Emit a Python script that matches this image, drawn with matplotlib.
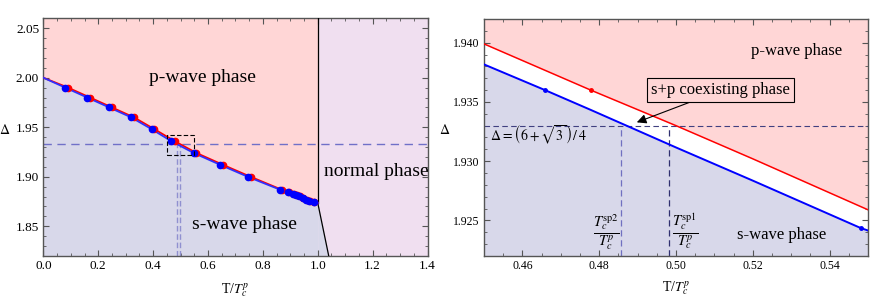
import matplotlib
matplotlib.use('Agg')
import matplotlib.pyplot as plt
from matplotlib.ticker import MultipleLocator
from matplotlib.patches import Rectangle

plt.rcParams['font.family'] = ['Liberation Serif', 'DejaVu Serif']
plt.rcParams['mathtext.fontset'] = 'stix'

# ---- data ----
# left panel: phase boundary points (T/Tc^p, Delta)
s_T = [0.0, 0.08, 0.16, 0.24, 0.32, 0.395, 0.466, 0.548, 0.645, 0.745, 0.862,
       0.89, 0.908, 0.92, 0.932, 0.945, 0.957, 0.968, 0.985, 1.0]
p_T = [0.0, 0.09, 0.17, 0.25, 0.33, 0.405, 0.478, 0.558, 0.655, 0.755, 0.868,
       0.895, 0.912, 0.924, 0.935, 0.948, 0.959, 0.970, 0.986, 1.0]
gap = [2.0, 1.99, 1.98, 1.97, 1.96, 1.948, 1.936, 1.924, 1.912, 1.900, 1.887,
       1.885, 1.883, 1.882, 1.881, 1.879, 1.877, 1.876, 1.8745, 1.8735]
normal_T = [1.0, 1.04]
normal_gap = [1.8735, 1.82]

# right panel: zoom near the crossing
zoom_T = [0.45, 0.4659, 0.4778, 0.50, 0.52, 0.5481, 0.55]
zoom_p = [1.9399, 1.93767, 1.9360, 1.9330, 1.9302, 1.92617, 1.9259]
zoom_s = [1.93817, 1.9360, 1.93433, 1.93116, 1.92836, 1.92436, 1.92415]
s_dot = ([0.4659, 0.5481], [1.9360, 1.92436])
p_dot = ([0.4778], [1.9360])

delta_c = 1.933
Tc_sp2 = 0.4857
Tc_sp1 = 0.4983

pink = '#ffd6d6'
lav = '#d8d8ea'
normal_col = '#f0dff0'
spine_col = '#555555'


def style(ax, xmaj, xmin, ymaj, ymin, fs):
    ax.xaxis.set_major_locator(MultipleLocator(xmaj))
    ax.xaxis.set_minor_locator(MultipleLocator(xmin))
    ax.yaxis.set_major_locator(MultipleLocator(ymaj))
    ax.yaxis.set_minor_locator(MultipleLocator(ymin))
    ax.tick_params(which='both', direction='in', top=True, right=True,
                   color=spine_col, labelsize=fs, pad=3)
    ax.tick_params(which='major', length=4, width=0.8)
    ax.tick_params(which='minor', length=2, width=0.6)
    for s in ax.spines.values():
        s.set_color(spine_col)
        s.set_linewidth(1.0)


fig = plt.figure(figsize=(8.72, 3.05), dpi=100)

# ---------------- left panel ----------------
ax1 = fig.add_axes([0.0497, 0.1607, 0.4406, 0.7793])
ymin1, ymax1 = 1.82, 2.06
ax1.set_xlim(0, 1.4)
ax1.set_ylim(ymin1, ymax1)
ax1.set_facecolor(normal_col)
ax1.axvspan(0, 1.0, color='white', lw=0, zorder=0.5)
ax1.fill_between(p_T, gap, ymax1, color=pink, lw=0, zorder=1)
ax1.fill_between(s_T, ymin1, gap, color=lav, lw=0, zorder=1)
ax1.fill_between(normal_T, ymin1, normal_gap, color=lav, lw=0, zorder=1)
ax1.plot([1.0, 1.0], [gap[-1], ymax1], color='black', lw=0.9, zorder=3)
ax1.plot(normal_T, normal_gap, color='black', lw=0.9, zorder=3)
ax1.plot(p_T, gap, color='red', lw=1.3, zorder=3)
ax1.plot(s_T, gap, color='#3030ff', lw=1.3, zorder=3)
ax1.plot(p_T[1:-1], gap[1:-1], 'o', color='red', ms=4.5, zorder=4)
ax1.plot(s_T[1:-1], gap[1:-1], 'o', color='blue', ms=4.5, zorder=5)
ax1.axhline(delta_c, color='#7070c8', lw=1.0, ls=(0, (6, 4)), zorder=2)
ax1.plot([Tc_sp2, Tc_sp2], [ymin1, delta_c], color='#9090d0', lw=1.0,
         ls=(0, (4, 2)), zorder=2)
ax1.plot([Tc_sp1, Tc_sp1], [ymin1, delta_c], color='#9090d0', lw=1.0,
         ls=(0, (4, 2)), zorder=2)
ax1.add_patch(Rectangle((0.45, 1.922), 0.1, 0.02, fill=False, ec='black',
                        lw=0.8, ls=(0, (4, 2)), zorder=6))
ax1.text(0.58, 2.0, 'p-wave phase', fontsize=14, ha='center', va='center')
ax1.text(0.733, 1.852, 's-wave phase', fontsize=14, ha='center', va='center')
ax1.text(1.212, 1.905, 'normal phase', fontsize=14, ha='center', va='center')
style(ax1, 0.2, 0.05, 0.05, 0.01, 9.5)
ax1.set_xticks([0.0, 0.2, 0.4, 0.6, 0.8, 1.0, 1.2, 1.4])
ax1.set_xticklabels(['0.0', '0.2', '0.4', '0.6', '0.8', '1.0', '1.2', '1.4'])
ax1.set_yticks([1.85, 1.90, 1.95, 2.00, 2.05])
ax1.set_yticklabels(['1.85', '1.90', '1.95', '2.00', '2.05'])
ax1.set_xlabel(r'T/$T_c^p$', fontsize=10, labelpad=7)
ax1.set_ylabel(r'$\Delta$', fontsize=10, rotation=0, labelpad=8)

# ---------------- right panel ----------------
ax2 = fig.add_axes([0.555, 0.1607, 0.4404, 0.777])
ymin2, ymax2 = 1.922, 1.942
ax2.set_xlim(0.45, 0.55)
ax2.set_ylim(ymin2, ymax2)
ax2.fill_between(zoom_T, zoom_p, ymax2, color=pink, lw=0, zorder=1)
ax2.fill_between(zoom_T, ymin2, zoom_s, color=lav, lw=0, zorder=1)
ax2.plot(zoom_T, zoom_p, color='red', lw=1.1, zorder=3)
ax2.plot(zoom_T, zoom_s, color='blue', lw=1.4, zorder=3)
ax2.plot(*s_dot, 'o', color='blue', ms=2.5, zorder=4)
ax2.plot(*p_dot, 'o', color='red', ms=2.5, zorder=4)
ax2.axhline(delta_c, color='#404080', lw=0.8, ls=(0, (5, 3)), zorder=2)
ax2.plot([Tc_sp2, Tc_sp2], [ymin2, delta_c], color='#7070c0', lw=0.9,
         ls=(0, (5, 3)), zorder=2)
ax2.plot([Tc_sp1, Tc_sp1], [ymin2, delta_c], color='#303070', lw=0.9,
         ls=(0, (5, 3)), zorder=2)
ax2.text(0.4515, 1.9322, r'$\Delta = \left(6+\sqrt{3}\,\right)/\,4$',
         fontsize=10, ha='left', va='center')
ax2.annotate('s+p coexisting phase', xy=(0.4898, 1.93328),
             xytext=(0.5115, 1.9360), fontsize=12, ha='center', va='center',
             bbox=dict(boxstyle='square,pad=0.25', fc=pink, ec='black', lw=0.8),
             arrowprops=dict(arrowstyle='-|>', color='black', lw=0.8,
                             mutation_scale=14, shrinkA=0, shrinkB=0,
                             connectionstyle='arc3', relpos=(0.36, 0)),
             zorder=6)
ax2.text(0.5315, 1.9393, 'p-wave phase', fontsize=12, ha='center', va='center')
ax2.text(0.5275, 1.9238, 's-wave phase', fontsize=12, ha='center', va='center')
ax2.text(0.4818, 1.9240, r'$\frac{T_c^{\rm sp2}}{T_c^p}$', fontsize=15,
         ha='center', va='center')
ax2.text(0.5023, 1.9240, r'$\frac{T_c^{\rm sp1}}{T_c^p}$', fontsize=15,
         ha='center', va='center')
style(ax2, 0.02, 0.005, 0.005, 0.001, 8.5)
ax2.set_xticks([0.46, 0.48, 0.50, 0.52, 0.54])
ax2.set_xticklabels(['0.46', '0.48', '0.50', '0.52', '0.54'])
ax2.set_yticks([1.925, 1.930, 1.935, 1.940])
ax2.set_yticklabels(['1.925', '1.930', '1.935', '1.940'])
ax2.set_xlabel(r'T/$T_c^p$', fontsize=10, labelpad=5)
ax2.set_ylabel(r'$\Delta$', fontsize=10, rotation=0, labelpad=6)

fig.savefig('out.png', dpi=100)
